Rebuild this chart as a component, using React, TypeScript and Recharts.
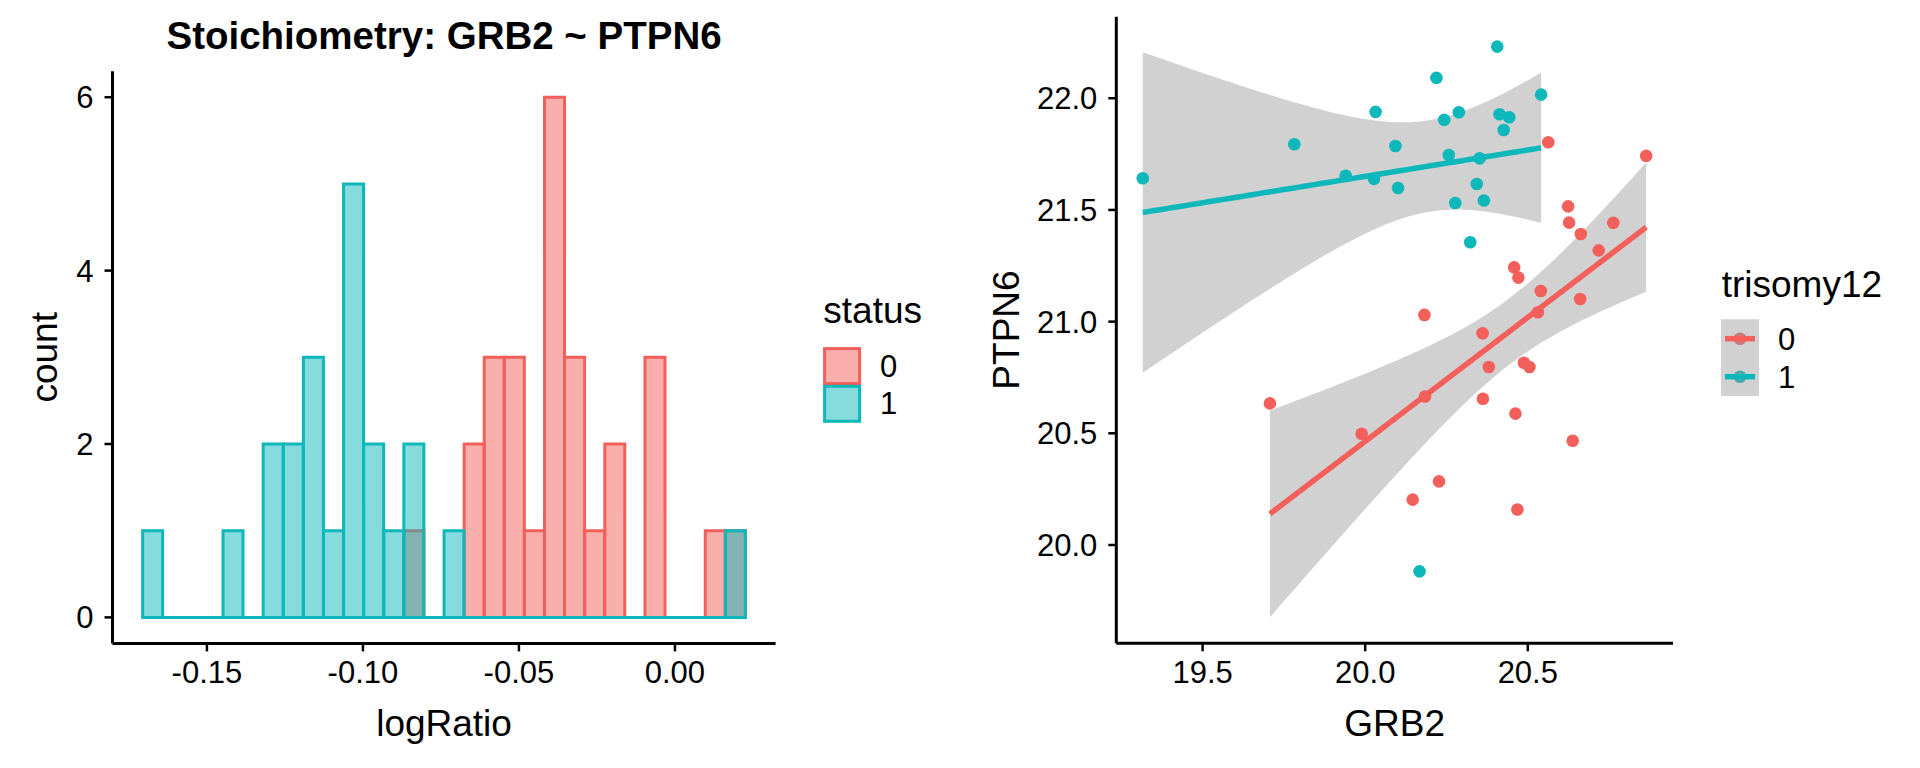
import React from "react";
import {
    ComposedChart,
    Bar,
    Scatter,
    Area,
    Line,
    XAxis,
    YAxis,
    Legend,
    ReferenceLine,
} from "recharts";

const FONT = '"Liberation Sans", Arial, Helvetica, sans-serif';
const RED = "#F35F5A";
const TEAL = "#0DB7BA";

// histogram: 30 bins of logRatio, counts per status
const binStart = -0.1706;
const binWidth = 0.00644;
const status0Counts = [0, 0, 0, 0, 0, 0, 0, 0, 0, 0, 0, 0, 0, 1, 0, 0, 2, 3, 3, 1, 6, 3, 1, 2, 0, 3, 0, 0, 1, 1];
const status1Counts = [1, 0, 0, 0, 1, 0, 2, 2, 3, 1, 5, 2, 1, 2, 0, 1, 0, 0, 0, 0, 0, 0, 0, 0, 0, 0, 0, 0, 0, 1];
const logRatioTicks = [-0.15, -0.1, -0.05, 0];
const countTicks = [0, 2, 4, 6];

// scatter: GRB2 vs PTPN6 by trisomy12
const grb2Tri0 = [20.563, 20.864, 20.624, 20.627, 20.663, 20.763, 20.718, 20.458, 20.471, 20.54, 20.661, 20.531, 20.182, 20.361, 20.38, 20.488, 20.505, 19.707, 19.989, 20.184, 20.362, 20.462, 20.638, 20.227, 20.146, 20.468];
const ptpn6Tri0 = [21.803, 21.742, 21.516, 21.443, 21.392, 21.442, 21.319, 21.243, 21.197, 21.137, 21.101, 21.042, 21.03, 20.948, 20.797, 20.816, 20.797, 20.634, 20.498, 20.665, 20.655, 20.588, 20.467, 20.285, 20.203, 20.159];
const grb2Tri1 = [19.316, 19.782, 19.94, 20.027, 20.032, 20.093, 20.101, 20.219, 20.243, 20.257, 20.277, 20.288, 20.323, 20.343, 20.352, 20.365, 20.406, 20.413, 20.426, 20.443, 20.541, 20.167];
const ptpn6Tri1 = [21.642, 21.794, 21.653, 21.639, 21.939, 21.786, 21.598, 22.091, 21.903, 21.746, 21.531, 21.937, 21.355, 21.616, 21.731, 21.542, 22.231, 21.928, 21.858, 21.915, 22.016, 19.882];
const grb2Ticks = [19.5, 20, 20.5];
const ptpn6Ticks = [20, 20.5, 21, 21.5, 22];

const binEnd = binStart + binWidth * status0Counts.length;
const binRange = binEnd - binStart;
const histData = status0Counts.map((n0, i) => ({
    bin: i,
    mid: binStart + binWidth * (i + 0.5),
    n0,
    n1: status1Counts[i],
}));

const points = (xs: number[], ys: number[]) => xs.map((x, i) => ({ x, y: ys[i] }));

// t quantile (0.975) approximation
const tq = (df: number) => {
    const z = 1.959964;
    return z + (z ** 3 + z) / (4 * df) + (5 * z ** 5 + 16 * z ** 3 + 3 * z) / (96 * df * df);
};

// lm fit with 95% confidence band, like geom_smooth(method = "lm")
function lmBand(xs: number[], ys: number[], n = 80) {
    const N = xs.length;
    const mx = xs.reduce((a, b) => a + b, 0) / N;
    const my = ys.reduce((a, b) => a + b, 0) / N;
    let sxx = 0;
    let sxy = 0;
    xs.forEach((x, i) => {
        sxx += (x - mx) ** 2;
        sxy += (x - mx) * (ys[i] - my);
    });
    const b = sxy / sxx;
    const a = my - b * mx;
    let sse = 0;
    xs.forEach((x, i) => {
        sse += (ys[i] - a - b * x) ** 2;
    });
    const s = Math.sqrt(sse / (N - 2));
    const t = tq(N - 2);
    const lo = Math.min(...xs);
    const hi = Math.max(...xs);
    return Array.from({ length: n }, (_, i) => {
        const x = lo + ((hi - lo) * i) / (n - 1);
        const y = a + b * x;
        const se = s * Math.sqrt(1 / N + (x - mx) ** 2 / sxx);
        return { x, y, band: [y - t * se, y + t * se] };
    });
}

const fit0 = lmBand(grb2Tri0, ptpn6Tri0);
const fit1 = lmBand(grb2Tri1, ptpn6Tri1);

const axisLine = { stroke: "#000", strokeWidth: 3 };
const tickLine = { stroke: "#000", strokeWidth: 2.5 };
const tickStyle = { fill: "#000", fontSize: 31, fontFamily: FONT };
const titleStyle = { fill: "#000", fontSize: 37, fontFamily: FONT };

const vTitle = (text: string, baseX: number) => (props: any) => {
    const vb = props.viewBox || {};
    const cy = vb.y + vb.height / 2;
    return (
        <text
            x={baseX}
            y={cy}
            transform={`rotate(-90 ${baseX} ${cy})`}
            textAnchor="middle"
            {...titleStyle}
        >
            {text}
        </text>
    );
};

const dot = (color: string) => (p: any) => <circle cx={p.cx} cy={p.cy} r={6.3} fill={color} />;

function StatusLegend() {
    return (
        <svg width={160} height={150} style={{ display: "block" }}>
            <text x={8.3} y={38.3} {...titleStyle}>status</text>
            {[RED, TEAL].map((c, i) => (
                <g key={c}>
                    <rect x={9.6} y={63.6 + i * 37.7} width={35} height={35} fill={c} fillOpacity={0.5} stroke={c} strokeWidth={3} />
                    <text x={65} y={91.7 + i * 37.7} {...tickStyle}>{i}</text>
                </g>
            ))}
        </svg>
    );
}

function TrisomyLegend() {
    return (
        <svg width={200} height={150} style={{ display: "block" }}>
            <text x={9.7} y={41.7} {...titleStyle}>trisomy12</text>
            {[RED, TEAL].map((c, i) => (
                <circle key={c} cx={28} cy={83.7 + i * 38} r={6.3} fill={c} />
            ))}
            <rect x={9} y={64.3} width={38} height={76.7} fill="#999999" fillOpacity={0.45} />
            {[RED, TEAL].map((c, i) => (
                <g key={c + "l"}>
                    <line x1={13} x2={43} y1={83.7 + i * 38} y2={83.7 + i * 38} stroke={c} strokeWidth={5.5} />
                    <text x={66} y={94.7 + i * 38} {...tickStyle}>{i}</text>
                </g>
            ))}
        </svg>
    );
}

// panel geometry (page pixels)
const H_LEFT = 112.5;
const H_RIGHT = 775.6;
const H_TOP = 71.2;
const H_BOTTOM = 643.4;
const H_W = 1000;
const histPad = ((H_RIGHT - H_LEFT) * 0.05) / 1.1;

const S_OFF = 900;
const S_LEFT = 1116.3 - S_OFF;
const S_RIGHT = 1673 - S_OFF;
const S_TOP = 16.7;
const S_BOTTOM = 643.3;
const S_W = 1020;

export default function App() {
    return (
        <div style={{ position: "absolute", left: 0, top: 0, width: 1920, height: 768, background: "#fff", fontFamily: FONT }}>
            <div
                style={{
                    position: "absolute",
                    left: H_LEFT,
                    width: H_RIGHT - H_LEFT,
                    top: 17,
                    textAlign: "center",
                    fontSize: 38.5,
                    lineHeight: "38px",
                    fontWeight: "bold",
                    color: "#000",
                    whiteSpace: "nowrap",
                }}
            >
                Stoichiometry: GRB2 ~ PTPN6
            </div>
            <div style={{ position: "absolute", left: 0, top: 0 }}>
                <ComposedChart
                    width={H_W}
                    height={768}
                    data={histData}
                    barCategoryGap={0}
                    barGap={0}
                    margin={{ top: H_TOP, right: H_W - H_RIGHT, bottom: 0, left: 0 }}
                >
                    <XAxis xAxisId="r" dataKey="bin" type="category" hide height={0} padding={{ left: histPad, right: histPad }} />
                    <XAxis xAxisId="t" dataKey="bin" type="category" hide height={0} padding={{ left: histPad, right: histPad }} />
                    <XAxis
                        xAxisId="v"
                        dataKey="mid"
                        type="number"
                        domain={[binStart - 0.05 * binRange, binEnd + 0.05 * binRange]}
                        allowDataOverflow
                        ticks={logRatioTicks}
                        tickFormatter={(v: number) => v.toFixed(2)}
                        height={768 - H_BOTTOM}
                        axisLine={axisLine}
                        tickLine={tickLine}
                        tickSize={8}
                        tickMargin={10}
                        tick={tickStyle}
                        label={{ value: "logRatio", position: "insideTop", offset: 66.3, ...titleStyle }}
                    />
                    <YAxis
                        type="number"
                        domain={[-0.3, 6.3]}
                        allowDataOverflow
                        ticks={countTicks}
                        width={H_LEFT}
                        axisLine={axisLine}
                        tickLine={tickLine}
                        tickSize={8}
                        tickMargin={11}
                        tick={tickStyle}
                        label={{ content: vTitle("count", 56.7) }}
                    />
                    <Bar
                        xAxisId="r"
                        dataKey="n0"
                        name="0"
                        fill={RED}
                        fillOpacity={0.5}
                        stroke={RED}
                        strokeWidth={3}
                        isAnimationActive={false}
                    />
                    <Bar
                        xAxisId="t"
                        dataKey="n1"
                        name="1"
                        fill={TEAL}
                        fillOpacity={0.5}
                        stroke={TEAL}
                        strokeWidth={3}
                        isAnimationActive={false}
                    />
                    <ReferenceLine
                        xAxisId="v"
                        segment={[
                            { x: binStart, y: 0 },
                            { x: binEnd, y: 0 },
                        ]}
                        stroke={TEAL}
                        strokeWidth={3}
                    />
                    <Legend
                        layout="vertical"
                        align="center"
                        verticalAlign="middle"
                        content={() => <StatusLegend />}
                        wrapperStyle={{ left: 815, top: 285, width: 160, height: 150 }}
                    />
                </ComposedChart>
            </div>
            <div style={{ position: "absolute", left: S_OFF, top: 0 }}>
                <ComposedChart
                    width={S_W}
                    height={768}
                    margin={{ top: S_TOP, right: S_W - S_RIGHT, bottom: 0, left: 0 }}
                >
                    <XAxis
                        dataKey="x"
                        type="number"
                        domain={[19.2346, 20.9465]}
                        allowDataOverflow
                        ticks={grb2Ticks}
                        tickFormatter={(v: number) => v.toFixed(1)}
                        height={768 - S_BOTTOM}
                        axisLine={axisLine}
                        tickLine={tickLine}
                        tickSize={8}
                        tickMargin={10}
                        tick={tickStyle}
                        label={{ value: "GRB2", position: "insideTop", offset: 66.4, ...titleStyle }}
                    />
                    <YAxis
                        dataKey="y"
                        type="number"
                        domain={[19.56, 22.365]}
                        allowDataOverflow
                        ticks={ptpn6Ticks}
                        tickFormatter={(v: number) => v.toFixed(1)}
                        width={S_LEFT}
                        axisLine={axisLine}
                        tickLine={tickLine}
                        tickSize={8}
                        tickMargin={11}
                        tick={tickStyle}
                        label={{ content: vTitle("PTPN6", 119) }}
                    />
                    <Scatter data={points(grb2Tri0, ptpn6Tri0)} fill={RED} shape={dot(RED)} isAnimationActive={false} />
                    <Scatter data={points(grb2Tri1, ptpn6Tri1)} fill={TEAL} shape={dot(TEAL)} isAnimationActive={false} />
                    <Area data={fit0} dataKey="band" type="linear" fill="#999999" fillOpacity={0.45} stroke="none" isAnimationActive={false} />
                    <Line data={fit0} dataKey="y" type="linear" stroke={RED} strokeWidth={5.5} dot={false} activeDot={false} isAnimationActive={false} />
                    <Area data={fit1} dataKey="band" type="linear" fill="#999999" fillOpacity={0.45} stroke="none" isAnimationActive={false} />
                    <Line data={fit1} dataKey="y" type="linear" stroke={TEAL} strokeWidth={5.5} dot={false} activeDot={false} isAnimationActive={false} />
                    <Legend
                        layout="vertical"
                        align="center"
                        verticalAlign="middle"
                        content={() => <TrisomyLegend />}
                        wrapperStyle={{ left: 812, top: 255, width: 200, height: 150 }}
                    />
                </ComposedChart>
            </div>
        </div>
    );
}
